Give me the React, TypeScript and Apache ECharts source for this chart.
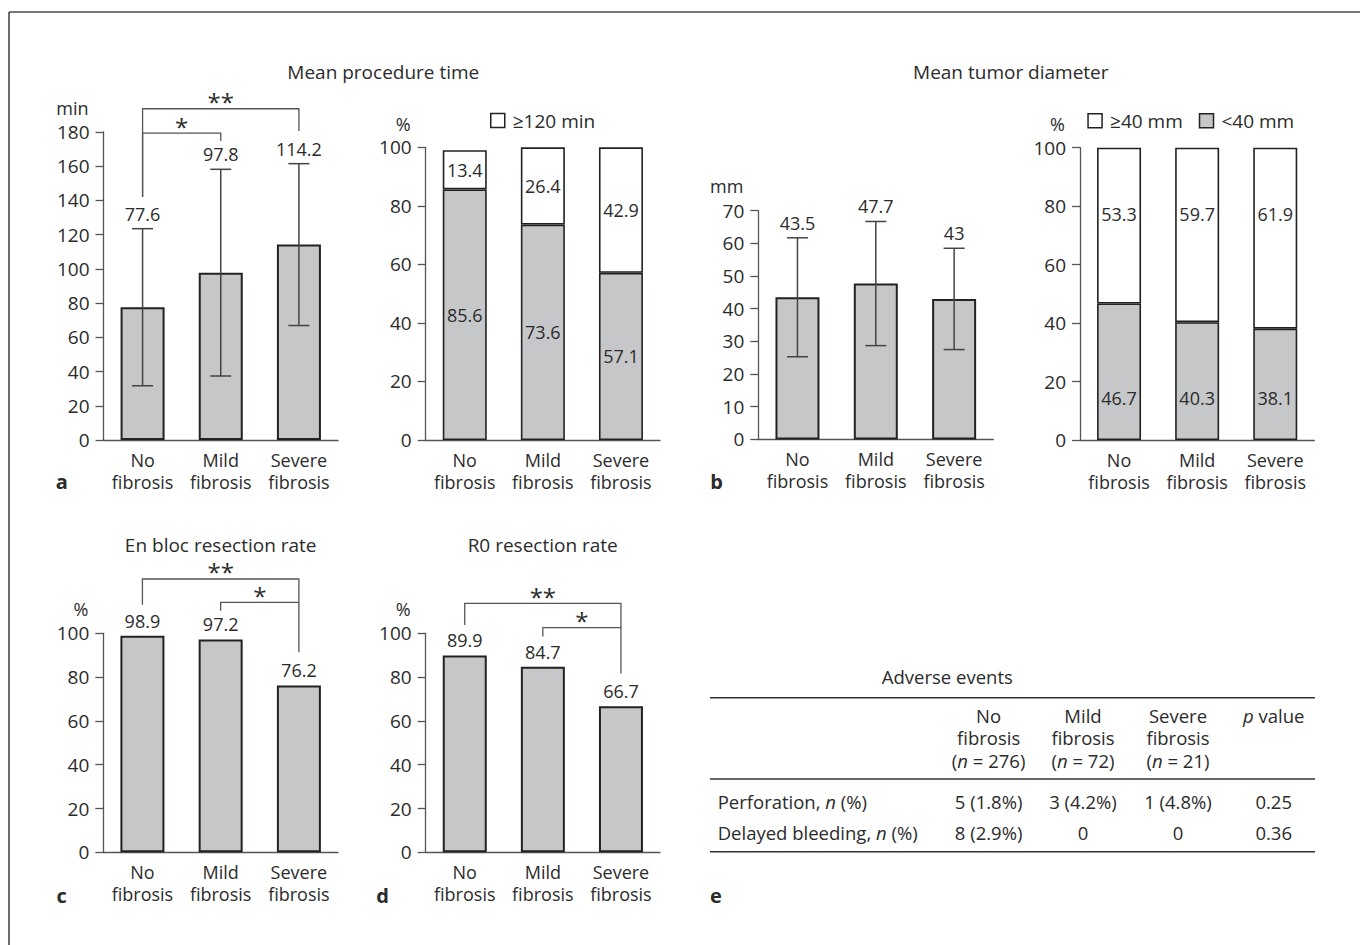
import React, { useEffect, useRef } from 'react';
import * as echarts from 'echarts';

const FONT = '"Open Sans", "Noto Sans", sans-serif';
const TXT = '#2b2b2b';
const AX = '#555555';
const BAR_FILL = '#c6c7c9';
const BAR_EDGE = '#222222';
const FS = 18;
const FS_TICK = 19;
const FS_TITLE = 19;

// ---- data ----
const categories = ['No\nfibrosis', 'Mild\nfibrosis', 'Severe\nfibrosis'];

const procTimeMean = [77.6, 97.8, 114.2];
const procTimeSD = [45.9, 60.4, 47.3];
const procTimeLt120 = [85.6, 73.6, 57.1];
const procTimeGe120 = [13.4, 26.4, 42.9];

const tumorMean = [43.5, 47.7, 43];
const tumorSD = [18.2, 19.0, 15.5];
const tumorGe40 = [53.3, 59.7, 61.9];
const tumorLt40 = [46.7, 40.3, 38.1];

const enBlocRate = [98.9, 97.2, 76.2];
const r0Rate = [89.9, 84.7, 66.7];

// significance annotations (category index, levels in axis units)
const sigProc = [
  { from: 0, to: 1, level: 179.4, dropL: 142, dropR: 174.8, mark: '*' },
  { from: 0, to: 2, level: 193.6, dropL: 142, dropR: 180.6, mark: '**' },
];
const sigEnBloc = [
  { from: 0, to: 2, level: 124.8, dropL: 113, dropR: 91.3, mark: '**' },
  { from: 1, to: 2, level: 114.1, dropL: 110.3, dropR: 114.1, mark: '*' },
];
const sigR0 = [
  { from: 0, to: 2, level: 113.7, dropL: 103.8, dropR: 81.7, mark: '**' },
  { from: 1, to: 2, level: 102.6, dropL: 98.5, dropR: 102.6, mark: '*' },
];

// table e
const tableTitle = 'Adverse events';
const tableColumns = ['No\nfibrosis\n({i|n} = 276)', 'Mild\nfibrosis\n({i|n} = 72)', 'Severe\nfibrosis\n({i|n} = 21)', '{i|p} value'];
const tableRowLabels = ['Perforation, {i|n} (%)', 'Delayed bleeding, {i|n} (%)'];
const tableRows = [
  ['5 (1.8%)', '3 (4.2%)', '1 (4.8%)', '0.25'],
  ['8 (2.9%)', '0', '0', '0.36'],
];

const textStyleBase = { fontFamily: FONT, fontSize: FS, color: TXT };

function xAx(gi: number) {
  return {
    type: 'category',
    gridIndex: gi,
    data: categories,
    axisLine: { lineStyle: { color: AX, width: 1.3 } },
    axisTick: { length: 8, lineStyle: { color: AX, width: 1.3 } },
    axisLabel: { ...textStyleBase, interval: 0, lineHeight: 22, margin: 9 },
  };
}

function yAx(gi: number, name: string, max: number, interval: number, nameGap: number) {
  return {
    type: 'value',
    gridIndex: gi,
    min: 0,
    max,
    interval,
    name,
    nameLocation: 'end',
    nameGap,
    nameTextStyle: { ...textStyleBase, fontSize: 18, lineHeight: 16, align: 'right', verticalAlign: 'middle', padding: [0, 15, 0, 0] },
    axisLine: { show: true, lineStyle: { color: AX, width: 1.3 } },
    axisTick: { show: true, length: 8, lineStyle: { color: AX, width: 1.3 } },
    splitLine: { show: false },
    axisLabel: { ...textStyleBase, fontSize: FS_TICK, lineHeight: 16, margin: 14 },
  };
}

function barSeries(gi: number, name: string, data: number[], extra: any = {}) {
  return {
    type: 'bar',
    name,
    xAxisIndex: gi,
    yAxisIndex: gi,
    data,
    barWidth: 44,
    itemStyle: { color: BAR_FILL, borderColor: BAR_EDGE, borderWidth: 2 },
    ...extra,
  };
}

function errorSeries(gi: number, means: number[], sds: number[]) {
  return {
    type: 'custom',
    xAxisIndex: gi,
    yAxisIndex: gi,
    z: 5,
    clip: false,
    data: means.map((m, i) => [i, m, sds[i]]),
    encode: { x: 0, y: 1 },
    renderItem: (params: any, api: any) => {
      const i = api.value(0);
      const m = api.value(1);
      const sd = api.value(2);
      const top = api.coord([i, m + sd]);
      const bot = api.coord([i, m - sd]);
      const hw = 10.5;
      const st = { stroke: '#444', lineWidth: 1.5 };
      return {
        type: 'group',
        children: [
          { type: 'line', shape: { x1: top[0], y1: top[1], x2: bot[0], y2: bot[1] }, style: st },
          { type: 'line', shape: { x1: top[0] - hw, y1: top[1], x2: top[0] + hw, y2: top[1] }, style: st },
          { type: 'line', shape: { x1: bot[0] - hw, y1: bot[1], x2: bot[0] + hw, y2: bot[1] }, style: st },
          {
            type: 'text',
            x: top[0],
            y: top[1] - 15,
            style: {
              text: String(means[params.dataIndex]),
              textAlign: 'center',
              textVerticalAlign: 'middle',
              fontSize: FS,
              fontFamily: FONT,
              fill: TXT,
            },
          },
        ],
      };
    },
  };
}

function sigSeries(gi: number, sig: any[]) {
  return {
    type: 'custom',
    xAxisIndex: gi,
    yAxisIndex: gi,
    z: 6,
    clip: false,
    silent: true,
    data: sig.map((s) => [s.from, s.level]),
    encode: { x: 0, y: 1 },
    renderItem: (params: any, api: any) => {
      const s = sig[params.dataIndex];
      const pL = api.coord([s.from, s.level]);
      const pR = api.coord([s.to, s.level]);
      const dL = api.coord([s.from, s.dropL]);
      const dR = api.coord([s.to, s.dropR]);
      return {
        type: 'group',
        children: [
          {
            type: 'polyline',
            shape: { points: [[pL[0], dL[1]], [pL[0], pL[1]], [pR[0], pR[1]], [pR[0], dR[1]]] },
            style: { stroke: AX, lineWidth: 1.3, fill: 'none' },
          },
          {
            type: 'text',
            x: (pL[0] + pR[0]) / 2,
            y: pL[1] - 7,
            style: {
              text: s.mark,
              textAlign: 'center',
              textVerticalAlign: 'middle',
              fontSize: 24,
              fontFamily: FONT,
              fill: TXT,
            },
          },
        ],
      };
    },
  };
}

const labelStyle = { ...textStyleBase };
const stackBorder = 1.6;

function buildOption() {
  const grids = [
    { left: 103.5, top: 132, width: 234.5, height: 308 },
    { left: 425.7, top: 147.3, width: 234.3, height: 292.7 },
    { left: 758.3, top: 210.7, width: 235, height: 228.7 },
    { left: 1080, top: 147.7, width: 234.3, height: 292.3 },
    { left: 103.3, top: 633.3, width: 234.7, height: 219 },
    { left: 425.7, top: 633.3, width: 234.3, height: 219 },
  ];

  const xAxis = grids.map((_, i) => xAx(i));
  const yAxis = [
    yAx(0, 'min', 180, 20, 24),
    yAx(1, '%', 100, 20, 23.5),
    yAx(2, 'mm', 70, 10, 24.5),
    yAx(3, '%', 100, 20, 23.5),
    yAx(4, '%', 100, 20, 24.5),
    yAx(5, '%', 100, 20, 24.5),
  ];

  const series: any[] = [
    barSeries(0, 'Mean procedure time', procTimeMean),
    errorSeries(0, procTimeMean, procTimeSD),
    sigSeries(0, sigProc),

    barSeries(1, '<120 min', procTimeLt120, {
      stack: 'pt',
      itemStyle: { color: BAR_FILL, borderColor: BAR_EDGE, borderWidth: stackBorder },
      label: { show: true, position: 'inside', ...labelStyle },
    }),
    barSeries(1, '≥120 min', procTimeGe120, {
      stack: 'pt',
      itemStyle: { color: '#ffffff', borderColor: BAR_EDGE, borderWidth: stackBorder },
      label: { show: true, position: 'inside', ...labelStyle },
    }),

    barSeries(2, 'Mean tumor diameter', tumorMean),
    errorSeries(2, tumorMean, tumorSD),

    barSeries(3, '<40 mm', tumorLt40, {
      stack: 'td',
      itemStyle: { color: BAR_FILL, borderColor: BAR_EDGE, borderWidth: stackBorder },
      label: { show: true, position: 'insideBottom', distance: 33, ...labelStyle },
    }),
    barSeries(3, '≥40 mm', tumorGe40, {
      stack: 'td',
      itemStyle: { color: '#ffffff', borderColor: BAR_EDGE, borderWidth: stackBorder },
      label: { show: true, position: 'insideTop', distance: 57, ...labelStyle },
    }),

    barSeries(4, 'En bloc resection rate', enBlocRate, {
      label: { show: true, position: 'top', distance: 6, ...labelStyle },
    }),
    sigSeries(4, sigEnBloc),

    barSeries(5, 'R0 resection rate', r0Rate, {
      label: { show: true, position: 'top', distance: 6, ...labelStyle },
    }),
    sigSeries(5, sigR0),
  ];

  const legendText = { ...textStyleBase, fontSize: 19, padding: [0, 0, 0, 3] };
  const legend = [
    {
      left: 490,
      top: 111,
      padding: 0,
      itemWidth: 14,
      itemHeight: 14,
      icon: 'rect',
      selectedMode: false,
      textStyle: legendText,
      data: [{ name: '≥120 min', itemStyle: { color: '#ffffff', borderColor: BAR_EDGE, borderWidth: 1.5 } }],
    },
    {
      left: 1087.3,
      top: 111.3,
      padding: 0,
      itemGap: 16,
      itemWidth: 14,
      itemHeight: 14,
      icon: 'rect',
      selectedMode: false,
      textStyle: legendText,
      data: [
        { name: '≥40 mm', itemStyle: { color: '#ffffff', borderColor: BAR_EDGE, borderWidth: 1.5 } },
        { name: '<40 mm', itemStyle: { color: BAR_FILL, borderColor: BAR_EDGE, borderWidth: 1.5 } },
      ],
    },
  ];

  const txt = (text: string, x: number, y: number, extra: any = {}) => ({
    type: 'text',
    x,
    y,
    silent: true,
    style: {
      text,
      textAlign: 'center',
      textVerticalAlign: 'middle',
      fontSize: FS,
      fontFamily: FONT,
      fill: TXT,
      ...extra,
    },
  });
  const TFS = 18.5;
  const rich = { i: { fontStyle: 'italic', fontSize: TFS, fontFamily: FONT, fill: TXT, lineHeight: 22.5 } };
  const hline = (x1: number, x2: number, y: number, lw = 1.4) => ({
    type: 'line',
    silent: true,
    shape: { x1, y1: y, x2, y2: y },
    style: { stroke: '#333', lineWidth: lw },
  });

  const colX = [988.6, 1083, 1178, 1273.7];
  const rowY = [801.7, 832.7];

  const graphic: any[] = [
    // figure frame
    { type: 'line', silent: true, shape: { x1: 9, y1: 12, x2: 1360, y2: 12 }, style: { stroke: '#4a4a4a', lineWidth: 1.6 } },
    { type: 'line', silent: true, shape: { x1: 9, y1: 12, x2: 9, y2: 945 }, style: { stroke: '#4a4a4a', lineWidth: 1.6 } },
    // titles
    txt('Mean procedure time', 383.3, 71.7, { fontSize: FS_TITLE }),
    txt('Mean tumor diameter', 1010.8, 71.7, { fontSize: FS_TITLE }),
    txt('En bloc resection rate', 220.7, 545, { fontSize: FS_TITLE }),
    txt('R0 resection rate', 542.7, 545, { fontSize: FS_TITLE }),
    // panel letters
    txt('a', 61.7, 481, { fontWeight: 'bold', fontSize: 20 }),
    txt('b', 716.7, 481, { fontWeight: 'bold', fontSize: 20 }),
    txt('c', 61.7, 895.5, { fontWeight: 'bold', fontSize: 20 }),
    txt('d', 382.7, 895, { fontWeight: 'bold', fontSize: 20 }),
    txt('e', 716, 895, { fontWeight: 'bold', fontSize: 20 }),
    // table
    txt(tableTitle, 947.3, 676.7, { fontSize: TFS }),
    hline(710, 1315, 697.7),
    hline(710, 1315, 779),
    hline(710, 1315, 851.7),
  ];
  tableColumns.forEach((c, i) => {
    const lines = c.split('\n').length;
    graphic.push(
      txt(c, colX[i], lines === 1 ? 715 : 737.5, { fontSize: TFS, lineHeight: 22.5, rich })
    );
  });
  tableRowLabels.forEach((r, ri) => {
    graphic.push(txt(r, 717.7, rowY[ri], { textAlign: 'left', fontSize: TFS, rich }));
    tableRows[ri].forEach((v, ci) => graphic.push(txt(v, colX[ci], rowY[ri], { fontSize: TFS })));
  });

  return {
    animation: false,
    backgroundColor: '#ffffff',
    textStyle: { fontFamily: FONT },
    grid: grids,
    xAxis,
    yAxis,
    legend,
    series,
    graphic,
  };
}

export default function App() {
  const ref = useRef<HTMLDivElement>(null);
  useEffect(() => {
    if (!ref.current) return;
    const chart = echarts.init(ref.current, undefined, { renderer: 'svg' });
    chart.setOption(buildOption() as any);
    return () => chart.dispose();
  }, []);
  return (
    <div
      ref={ref}
      style={{ position: 'absolute', left: 0, top: 0, width: 1360, height: 945, background: '#fff' }}
    />
  );
}
